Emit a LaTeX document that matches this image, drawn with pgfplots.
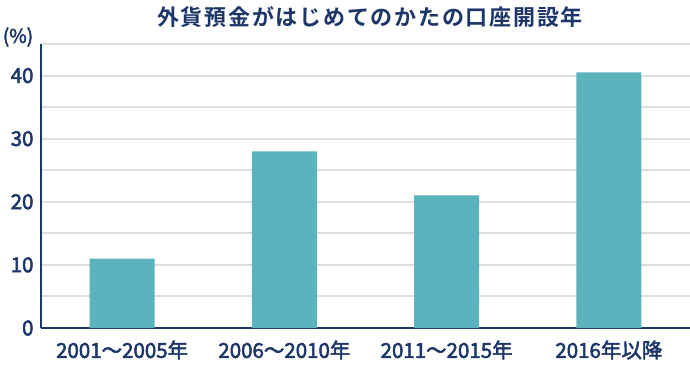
\documentclass[border=0pt]{standalone}
\usepackage{fontspec}
\setmainfont{Noto Sans CJK JP}
\newfontfamily\medfont{Noto Sans CJK JP}[FakeBold=2.5]
\newfontfamily\titlefont{Noto Sans CJK JP Bold}[LetterSpace=8]
\usepackage{pgfplots}
\pgfplotsset{compat=1.18}
\definecolor{navy}{RGB}{28,54,104}
\definecolor{teal1}{RGB}{91,179,190}
\definecolor{gridc}{RGB}{222,222,222}
\begin{document}
\begin{tikzpicture}[x=1pt,y=1pt]
\useasboundingbox (0,0) rectangle (690,364);
\begin{axis}[
  at={(41pt,36pt)}, anchor=south west,
  scale only axis, width=649pt, height=284pt,
  xmin=-0.5, xmax=3.5, ymin=0, ymax=45,
  axis x line*=bottom, axis y line*=left,
  axis line style={navy, line width=2pt, -},
  xtick=data,
  xticklabels={2001～2005年,2006～2010年,2011～2015年,2016年以降},
  ytick={0,10,20,30,40},
  minor ytick={5,15,25,35,45},
  ymajorgrids, yminorgrids,
  major grid style={gridc, line width=2pt},
  minor grid style={gridc, line width=2pt},
  major tick length=0pt, minor tick length=0pt,
  tick label style={font=\medfont\fontsize{20.5}{20.5}\selectfont, text=navy},
  /pgf/number format/assume math mode=true,
  yticklabel style={xshift=-4pt},
  xticklabel style={yshift=-9pt},
  clip=false,
]
\addplot[ybar, bar width=65pt, fill=teal1, draw=none] coordinates {(0,11) (1,28) (2,21) (3,40.5)};
\end{axis}
\node[text=navy, font=\titlefont\fontsize{22}{22}\selectfont] at (370,347) {外貨預金がはじめてのかたの口座開設年};
\node[text=navy, font=\medfont\fontsize{19}{19}\selectfont] at (18,327) {(\%)};
\end{tikzpicture}
\end{document}
